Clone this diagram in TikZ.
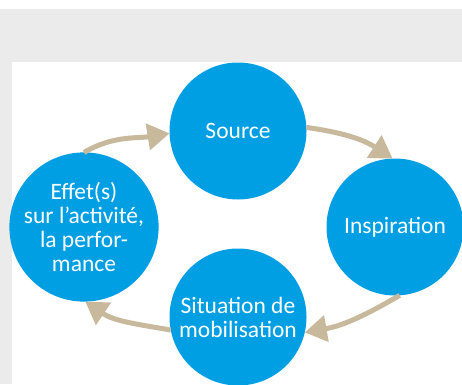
\documentclass[tikz,border=0pt]{standalone}
\usepackage{fontspec}
\setmainfont{Carlito}
\usetikzlibrary{arrows.meta}
\definecolor{bgray}{HTML}{EBEBEB}
\definecolor{cblue}{HTML}{009FE3}
\definecolor{ctan}{HTML}{C9B99C}
\tikzset{
  stage/.style={circle, fill=cblue, draw=none, minimum size=137pt, inner sep=0pt, outer sep=0pt,
    text=white, align=center, font=\fontsize{23.5pt}{24pt}\selectfont},
  flow/.style={draw=ctan, line width=5pt, -{Triangle[length=22pt,width=26pt]}}
}
\begin{document}
\begin{tikzpicture}[x=1pt,y=1pt]
\useasboundingbox (0,0) rectangle (462,384);
\clip (0,0) rectangle (462,384);
\fill[white] (0,0) rectangle (462,384);
\fill[bgray] (0,0) rectangle (12,375);
\fill[bgray] (0,322) rectangle (462,375);
\node[stage] (source) at (238,253) {Source};
\node[stage] (insp) at (395,157) {Inspiration};
\node[stage] (effet) at (84,157) {Effet(s)\\sur l’activité,\\la perfor-\\mance};
\node[stage] (sit) at (238,67) {Situation de\\mobilisation};
\draw[flow] (effet.90) to[out=30,in=189] (source.182);
\draw[flow] (source.3) to[out=-8,in=147] (insp.92);
\draw[flow] (insp.-86) to[out=210,in=10] (sit.-13);
\draw[flow] (sit.191) to[out=170,in=-34] (effet.-89);
\end{tikzpicture}
\end{document}
